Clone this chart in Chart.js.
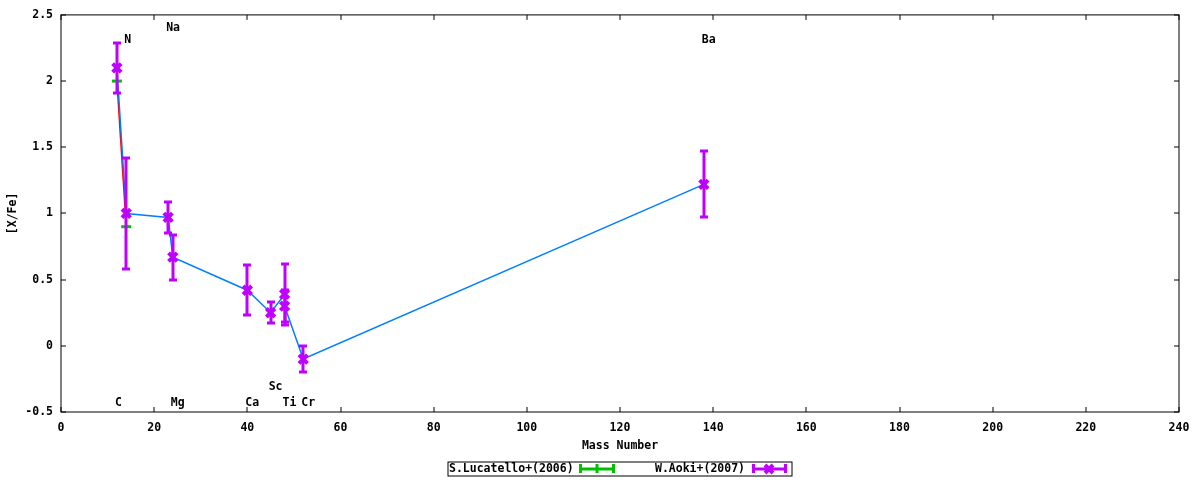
<!DOCTYPE html>
<html>
<head>
<meta charset="utf-8">
<script src="https://cdn.jsdelivr.net/npm/chart.js@4"></script>
<style>
  body { margin: 0; background: #fff; }
  #wrap { width: 1200px; height: 480px; }
</style>
</head>
<body>
<div id="wrap"><canvas id="chart" width="1200" height="480"></canvas></div>
<script>
// ── data ───────────────────────────────────────────────────────────────────
const lucMass = [12, 14]
const lucVal = [2.0, 0.9]

const aokiMass = [12, 14, 23, 24, 40, 45, 48, 48, 52, 138]
const aokiVal = [2.10, 1.00, 0.97, 0.67, 0.42, 0.25, 0.39, 0.30, -0.10, 1.22]
const aokiErr = [0.19, 0.42, 0.12, 0.17, 0.19, 0.08, 0.23, 0.12, 0.10, 0.25]

const elemNames = ['C', 'N', 'Na', 'Mg', 'Ca', 'Sc', 'Ti', 'Cr', 'Ba']
const elemMass = [12, 14, 23, 24, 40, 45, 48, 52, 138]
const elemLabelY = [-0.43, 2.31, 2.40, -0.43, -0.43, -0.31, -0.43, -0.43, 2.31]

const legendNames = ['S.Lucatello+(2006)', 'W.Aoki+(2007)']

const RED = '#ff0000'
const GREEN = '#00c000'
const BLUE = '#0080ff'
const PURPLE = '#c000ff'
const FONT = { family: '"DejaVu Sans Mono", monospace', size: 11.5, weight: 'bold' }
const fontStr = `bold ${FONT.size}px ${FONT.family}`

const toXY = (xs, ys) => xs.map((x, i) => ({ x, y: ys[i] }))

// ── error bars, drawn just before the marker dataset ──────────────────────
const errorBars = {
  id: 'errorBars',
  beforeDatasetDraw(chart, args) {
    const ds = chart.data.datasets[args.index]
    if (!ds.errs) return
    const { ctx, scales: { x, y } } = chart
    ctx.save()
    ctx.fillStyle = ds.errColor
    ds.data.forEach((p, i) => {
      const px = Math.round(x.getPixelForValue(p.x))
      const top = Math.round(y.getPixelForValue(p.y + ds.errs[i]))
      const bot = Math.round(y.getPixelForValue(p.y - ds.errs[i]))
      ctx.fillRect(px - 1.5, top, 3, bot - top)
      ctx.fillRect(px - 4, top - 1.5, 8, 3)
      ctx.fillRect(px - 4, bot - 1.5, 8, 3)
    })
    ctx.restore()
  },
}

// ── frame with inward ticks, element labels and gnuplot-style key ─────────
const decorations = {
  id: 'decorations',
  afterDraw(chart) {
    const { ctx, chartArea: a, scales: { x, y } } = chart
    ctx.save()
    ctx.strokeStyle = '#000'
    ctx.lineWidth = 1
    ctx.strokeRect(a.left, a.top, a.right - a.left, a.bottom - a.top)
    ctx.beginPath()
    x.ticks.forEach((t) => {
      const px = Math.round(x.getPixelForValue(t.value))
      ctx.moveTo(px, a.bottom); ctx.lineTo(px, a.bottom - 5)
      ctx.moveTo(px, a.top); ctx.lineTo(px, a.top + 5)
    })
    y.ticks.forEach((t) => {
      const py = Math.round(y.getPixelForValue(t.value))
      ctx.moveTo(a.left, py); ctx.lineTo(a.left + 5, py)
      ctx.moveTo(a.right, py); ctx.lineTo(a.right - 5, py)
    })
    ctx.stroke()

    ctx.font = fontStr
    ctx.fillStyle = '#000'
    ctx.textAlign = 'left'
    ctx.textBaseline = 'middle'
    elemNames.forEach((n, i) => {
      ctx.fillText(n, x.getPixelForValue(elemMass[i]) - 2, y.getPixelForValue(elemLabelY[i]))
    })

    // key box
    ctx.strokeRect(448, 462, 344, 14)
    ctx.fillText(legendNames[0], 449, 469)
    ctx.fillText(legendNames[1], 655, 469)
    // green sample
    ctx.fillStyle = GREEN
    ctx.fillRect(579, 467.5, 36, 3)
    ctx.fillRect(579, 464, 3, 9)
    ctx.fillRect(612, 464, 3, 9)
    ctx.fillRect(595.5, 464, 3, 9)
    // purple sample
    ctx.fillStyle = PURPLE
    ctx.fillRect(752, 467.5, 35, 3)
    ctx.fillRect(752, 464, 3, 9)
    ctx.fillRect(784, 464, 3, 9)
    ctx.strokeStyle = PURPLE
    ctx.lineWidth = 4
    ctx.beginPath()
    ctx.moveTo(765, 465); ctx.lineTo(773, 473)
    ctx.moveTo(773, 465); ctx.lineTo(765, 473)
    ctx.stroke()
    ctx.restore()
  },
}

new Chart(document.getElementById('chart'), {
  type: 'scatter',
  data: {
    datasets: [
      {
        label: legendNames[1],
        data: toXY(aokiMass, aokiVal),
        errs: aokiErr,
        errColor: PURPLE,
        pointStyle: 'crossRot',
        pointRadius: 6,
        borderWidth: 4,
        borderColor: PURPLE,
        backgroundColor: PURPLE,
        showLine: false,
        order: 0,
      },
      {
        label: 'aoki line',
        data: toXY(aokiMass, aokiVal),
        showLine: true,
        borderColor: BLUE,
        borderWidth: 1.5,
        pointRadius: 0,
        order: 1,
      },
      {
        label: legendNames[0],
        data: toXY(lucMass, lucVal),
        pointStyle: 'line',
        pointRadius: 5,
        borderWidth: 3,
        borderColor: GREEN,
        showLine: false,
        order: 2,
      },
      {
        label: 'lucatello line',
        data: toXY(lucMass, lucVal),
        showLine: true,
        borderColor: RED,
        borderWidth: 1.5,
        pointRadius: 0,
        order: 3,
      },
    ],
  },
  options: {
    responsive: false,
    animation: false,
    layout: { padding: { top: 13, right: 21, bottom: 25, left: 0 } },
    plugins: {
      legend: { display: false },
      tooltip: { enabled: false },
    },
    scales: {
      x: {
        type: 'linear',
        min: 0, max: 240,
        afterFit: (s) => { s.height = 43 },
        ticks: { stepSize: 20, color: '#000', font: FONT, padding: 9, maxRotation: 0 },
        grid: { display: false, drawTicks: false },
        border: { display: false },
        title: { display: true, text: 'Mass Number', color: '#000', font: FONT, padding: { top: 0, bottom: 2 } },
      },
      y: {
        min: -0.5, max: 2.5,
        afterFit: (s) => { s.width = 61 },
        ticks: { stepSize: 0.5, color: '#000', font: FONT, padding: 8, callback: (v) => String(v) },
        grid: { display: false, drawTicks: false },
        border: { display: false },
        title: { display: true, text: '[X/Fe]', color: '#000', font: FONT, padding: { top: 6, bottom: 0 } },
      },
    },
  },
  plugins: [errorBars, decorations],
})
</script>
</body>
</html>
